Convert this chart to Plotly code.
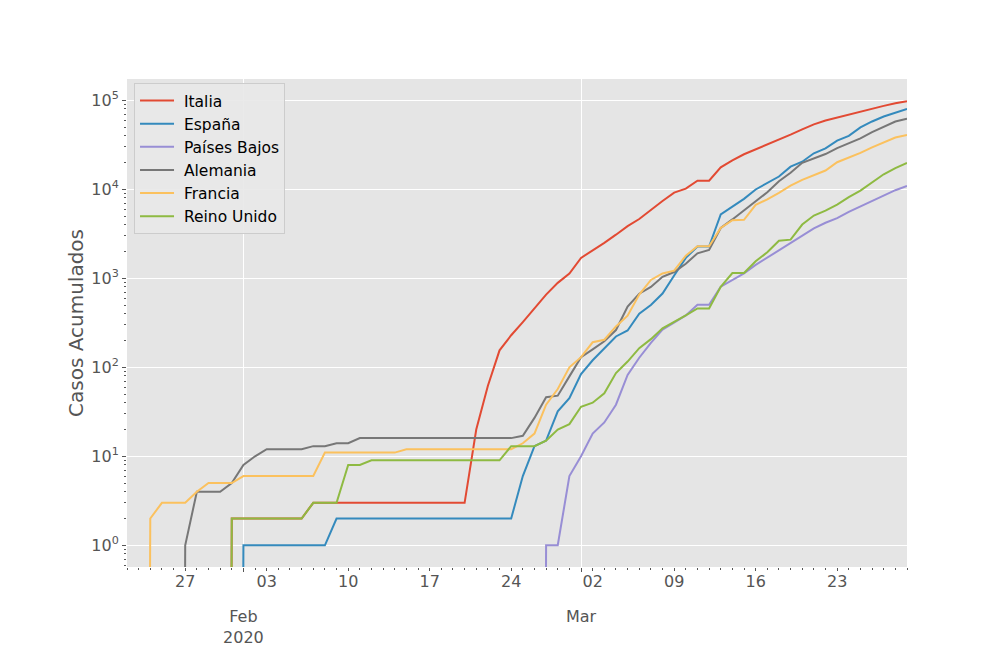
import pandas as pd
import plotly.graph_objects as go

# fechas: 22 ene - 29 mar 2020
fechas = pd.date_range("2020-01-22", "2020-03-29", freq="D")

italia = ([0] * 9 + [2] * 7 + [3] * 14 +
          [20, 62, 155, 229, 322, 453, 655, 888, 1128] +
          [1694, 2036, 2502, 3089, 3858, 4636, 5883, 7375, 9172, 10149, 12462, 12462,
           17660, 21157, 24747, 27980, 31506, 35713, 41035, 47021, 53578, 59138, 63927,
           69176, 74386, 80589, 86498, 92472, 97689])
espana = ([0] * 10 + [1] * 8 + [2] * 16 + [6, 13, 15, 32, 45] +
          [84, 120, 165, 222, 259, 400, 500, 673, 1073, 1695, 2277, 2277, 5232, 6391,
           7798, 9942, 11748, 13910, 17963, 20410, 25374, 28768, 35136, 39885, 49515,
           57786, 65719, 73235, 80110])
paises_bajos = ([0] * 36 + [1, 1, 6] +
                [10, 18, 24, 38, 82, 128, 188, 265, 321, 382, 503, 503, 804, 959, 1135,
                 1413, 1705, 2051, 2460, 2994, 3631, 4204, 4749, 5560, 6412, 7431, 8603,
                 9762, 10866])
alemania = ([0] * 5 + [1, 4, 4, 4, 5] +
            [8, 10, 12, 12, 12, 12, 13, 13, 14, 14] + [16] * 14 + [17, 27, 46, 48, 79] +
            [130, 159, 196, 262, 482, 670, 799, 1040, 1176, 1457, 1908, 2078, 3675, 4585,
             5795, 7272, 9257, 12327, 15320, 19848, 22213, 24873, 29056, 32986, 37323,
             43938, 50871, 57695, 62095])
francia = ([0] * 2 + [2, 3, 3, 3, 4, 5, 5, 5] + [6] * 7 + [11] * 7 + [12] * 10 +
           [14, 18, 38, 57, 100] +
           [130, 191, 204, 288, 380, 656, 957, 1134, 1217, 1794, 2293, 2293, 3681, 4496,
            4532, 6683, 7715, 9124, 10970, 12758, 14463, 16243, 20123, 22622, 25600,
            29551, 33402, 38105, 40708])
reino_unido = ([0] * 9 + [2] * 7 + [3] * 3 + [8] * 2 + [9] * 12 + [13] * 3 + [15, 20, 23] +
               [36, 40, 51, 86, 116, 164, 207, 274, 322, 384, 459, 459, 802, 1144, 1145,
                1551, 1960, 2642, 2716, 4014, 5067, 5745, 6726, 8164, 9640, 11812, 14745,
                17312, 19780])

paises = ["Italia", "España", "Países Bajos", "Alemania", "Francia", "Reino Unido"]
series = [italia, espana, paises_bajos, alemania, francia, reino_unido]
colores = ["#E24A33", "#348ABD", "#988ED5", "#777777", "#FBC15E", "#8EBA42"]

semanas = pd.date_range("2020-01-27", "2020-03-23", freq="7D")
meses = ["2020-02-01", "2020-03-01"]
meses_txt = ["Feb<br>2020", "Mar"]

FONT = "DejaVu Sans"
GRIS = "#555555"
OFF = 8  # margen del body de la pagina

fig = go.Figure()
for i, (nombre, vals, color) in enumerate(zip(paises, series, colores)):
    # como en matplotlib, los ceros caen fuera del eje logaritmico
    y = [v if v > 0 else 1e-30 for v in vals]
    # la primera serie va en el eje de meses, el resto en el de semanas
    fig.add_trace(go.Scatter(x=fechas, y=y, name="\u00a0" + nombre, mode="lines",
                             xaxis="x" if i == 0 else "x2",
                             line=dict(color=color, width=2)))

rango_x = [fechas[0], fechas[-1]]
minor_y = [k * 10 ** e for e in range(-1, 6) for k in range(2, 10)]

fig.update_layout(
    width=1008, height=648,
    margin=dict(l=127 - OFF, r=101 + OFF, t=79 - OFF, b=81 + OFF, autoexpand=False),
    paper_bgcolor="white",
    plot_bgcolor="#E5E5E5",
    font=dict(family=FONT, color=GRIS, size=16),
    showlegend=True,
    legend=dict(x=0.009, y=0.992, xanchor="left", yanchor="top",
                bgcolor="rgba(232,232,232,0.9)", bordercolor="#CCCCCC", borderwidth=1,
                font=dict(family=FONT, size=15.5, color="black"), itemwidth=34),
    xaxis=dict(type="date", range=rango_x, tickmode="array", tickvals=meses,
               ticktext=meses_txt, showgrid=True, gridcolor="white", gridwidth=1,
               ticks="outside", ticklen=4, tickcolor=GRIS, ticklabelstandoff=31,
               showline=False, zeroline=False, automargin=False,
               minor=dict(ticks="outside", ticklen=2, tickcolor=GRIS, showgrid=False,
                          dtick=86400000, tick0="2020-01-22")),
    xaxis2=dict(type="date", range=rango_x, overlaying="x", anchor="y", side="bottom",
                tickmode="array", tickvals=semanas,
                ticktext=[d.strftime("%d") for d in semanas],
                showgrid=False, ticks="outside", ticklen=3, tickcolor=GRIS,
                ticklabelstandoff=-3,
                showline=False, zeroline=False, automargin=False),
    yaxis=dict(type="log", range=[-0.244, 5.239], tickmode="array",
               tickvals=[1, 10, 100, 1000, 10000, 100000],
               ticktext=["10<sup>%d</sup>" % e for e in range(6)],
               showgrid=True, gridcolor="white", gridwidth=1,
               ticks="outside", ticklen=4, tickcolor=GRIS,
               showline=False, zeroline=False, automargin=False,
               title=dict(text="Casos Acumulados", font=dict(size=20, color=GRIS), standoff=2),
               minor=dict(ticks="outside", ticklen=2, tickcolor=GRIS, showgrid=False,
                          tickvals=minor_y)),
)

fig.write_html("out.html")
